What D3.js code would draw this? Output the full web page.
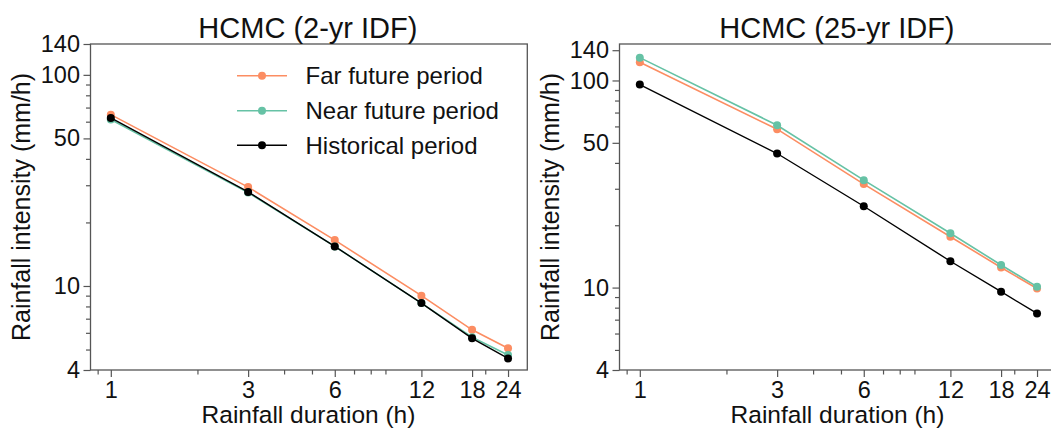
<!DOCTYPE html>
<html>
<head>
<meta charset="utf-8">
<script src="https://cdn.jsdelivr.net/npm/d3@7"></script>
<style>
  html, body { margin: 0; padding: 0; background: #fff; }
  svg { display: block; font-family: "Liberation Sans", Arial, sans-serif; }
</style>
</head>
<body>
<svg id="chart" width="1051" height="429"></svg>
<script>
// ---- data ----
const durations = [1, 3, 6, 12, 18, 24];
const seriesNames = ["Far future period", "Near future period", "Historical period"];
const seriesColors = ["#fc8d62", "#66c2a5", "#000000"];

const idf2Far  = [64.8, 29.4, 16.5, 9.0, 6.2, 5.07];
const idf2Near = [61.5, 27.7, 15.4, 8.3, 5.72, 4.71];
const idf2Hist = [62.5, 27.9, 15.4, 8.3, 5.65, 4.54];

const idf25Far  = [122.4, 58.2, 31.6, 17.6, 12.5, 9.9];
const idf25Near = [128.9, 60.8, 33.0, 18.3, 12.85, 10.1];
const idf25Hist = [95.5, 44.4, 24.7, 13.4, 9.55, 7.5];

const titles = ["HCMC (2-yr IDF)", "HCMC (25-yr IDF)"];
const xMajorTicks = [1, 3, 6, 12, 18, 24];
const xMinorTicks = [0.9, 2, 4, 5, 7, 8, 9, 20];
const yMajorTicks = [4, 10, 50, 100, 140];
const yMinorTicks = [5, 6, 7, 8, 9, 20, 30, 40, 60, 70, 80, 90];
const xLabel = "Rainfall duration (h)";
const yLabel = "Rainfall intensity (mm/h)";

// ---- layout ----
(function () {
const svg = d3.select("#chart");
const plotTop = 44, plotBottom = 370, plotW = 436.8;
const panels = [
  { title: titles[0], left: 90.5, yMax: 140, series: [idf2Far, idf2Near, idf2Hist], legend: true },
  { title: titles[1], left: 619.5, yMax: 150, series: [idf25Far, idf25Near, idf25Hist], legend: false }
];
const axisColor = "#555";
const fontFam = '"Liberation Sans", Arial, sans-serif';

panels.forEach(p => {
  const x = d3.scaleLog().domain([0.85, 28]).range([p.left, p.left + plotW]);
  const y = d3.scaleLog().domain([4, p.yMax]).range([plotBottom, plotTop]);
  const g = svg.append("g");

  // minor ticks
  const xMin = g.append("g").attr("transform", `translate(0,${plotBottom})`)
    .call(d3.axisBottom(x).tickValues(xMinorTicks).tickSize(4.5).tickFormat(""));
  const yMin = g.append("g").attr("transform", `translate(${p.left},0)`)
    .call(d3.axisLeft(y).tickValues(yMinorTicks).tickSize(4.5).tickFormat(""));
  // major ticks
  const xMaj = g.append("g").attr("transform", `translate(0,${plotBottom})`)
    .call(d3.axisBottom(x).tickValues(xMajorTicks).tickSize(7).tickPadding(4).tickFormat(d3.format("d")));
  const yMaj = g.append("g").attr("transform", `translate(${p.left},0)`)
    .call(d3.axisLeft(y).tickValues(yMajorTicks).tickSize(7).tickPadding(3.5).tickFormat(d3.format("d")));
  [xMin, yMin, xMaj, yMaj].forEach(a => {
    a.select(".domain").remove();
    a.selectAll(".tick line").attr("stroke", axisColor).attr("stroke-width", 1.2);
    a.selectAll(".tick text").attr("fill", "#111").style("font-size", "23.5px")
      .style("font-family", fontFam);
  });

  // frame
  g.append("rect")
    .attr("x", p.left).attr("y", plotTop)
    .attr("width", plotW).attr("height", plotBottom - plotTop)
    .attr("fill", "none").attr("stroke", axisColor).attr("stroke-width", 1.3);

  // series
  const line = d3.line().x((d, i) => x(durations[i])).y(d => y(d));
  p.series.forEach((vals, si) => {
    g.append("path").datum(vals)
      .attr("d", line).attr("fill", "none")
      .attr("stroke", seriesColors[si]).attr("stroke-width", si === 2 ? 1.4 : 1.6);
    g.selectAll(null).data(vals).enter().append("circle")
      .attr("cx", (d, i) => x(durations[i])).attr("cy", d => y(d))
      .attr("r", 4).attr("fill", seriesColors[si]);
  });

  // title
  g.append("text").attr("x", p.left + plotW / 2 - 1).attr("y", 38)
    .attr("text-anchor", "middle").style("font-size", "29px").attr("fill", "#111")
    .text(p.title);
  // x label
  g.append("text").attr("x", p.left + 219 - 1).attr("y", 423)
    .attr("text-anchor", "middle").style("font-size", "24.5px").attr("fill", "#111")
    .text(xLabel);
  // y label
  g.append("text").attr("transform", `translate(${p.left - 60.5},${(plotTop + plotBottom) / 2}) rotate(-90)`)
    .attr("text-anchor", "middle").style("font-size", "25px").attr("fill", "#111")
    .text(yLabel);

  // legend
  if (p.legend) {
    const ly = [75.7, 110.7, 145.3];
    seriesNames.forEach((name, si) => {
      const lg = g.append("g");
      lg.append("line").attr("x1", 237).attr("x2", 287).attr("y1", ly[si]).attr("y2", ly[si])
        .attr("stroke", seriesColors[si]).attr("stroke-width", si === 2 ? 1.4 : 1.6);
      lg.append("circle").attr("cx", 262).attr("cy", ly[si]).attr("r", 4).attr("fill", seriesColors[si]);
      lg.append("text").attr("x", 305.5).attr("y", ly[si]).attr("dy", "0.35em")
        .style("font-size", "24px").attr("fill", "#111").text(name);
    });
  }
});
})();
</script>
</body>
</html>
